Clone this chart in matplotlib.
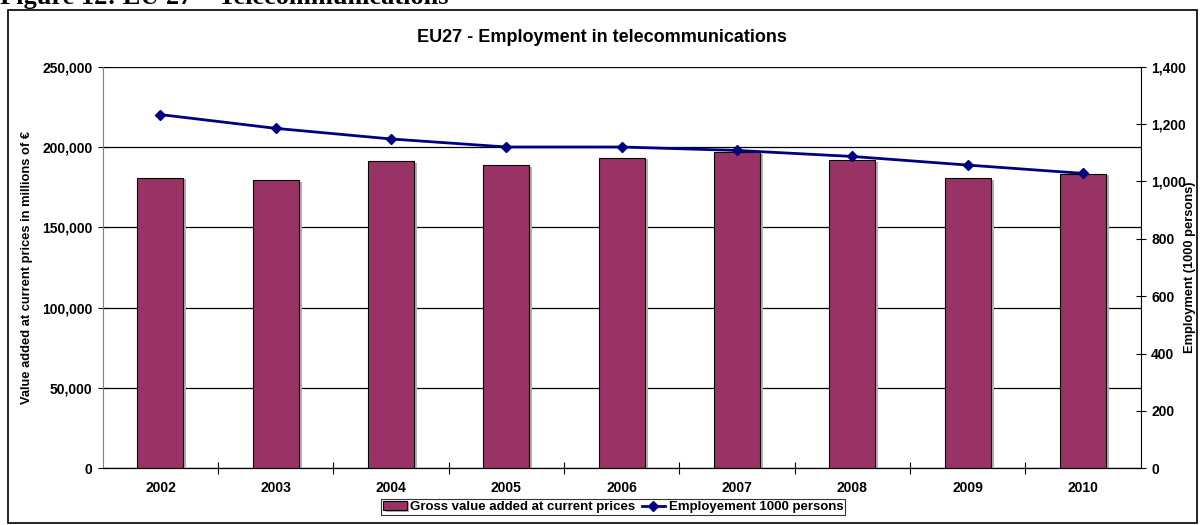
import matplotlib
matplotlib.use("Agg")
import matplotlib.pyplot as plt
import matplotlib.patheffects as pe
from matplotlib.patches import Rectangle
from matplotlib.ticker import FuncFormatter, FixedLocator
import numpy as np

# EU27 telecommunications: value added (bars) and employment (line)
years = ["2002", "2003", "2004", "2005", "2006", "2007", "2008", "2009", "2010"]
value_added = [180900, 179200, 191200, 188700, 193400, 196700, 191700, 180400, 183400]
employment = [1233, 1185, 1148, 1120, 1120, 1108, 1087, 1057, 1028]

plt.rcParams["font.family"] = ["Liberation Sans", "DejaVu Sans"]
plt.rcParams["font.weight"] = "bold"

W, H = 1203, 525
fig = plt.figure(figsize=(W / 100, H / 100), dpi=100)
ax = fig.add_axes([0.0854, 0.108, 0.8628, 0.765])
ax2 = ax.twinx()

x = np.arange(len(years))
bars = ax.bar(x, value_added, width=0.4, color="#993366", edgecolor="black",
              linewidth=0.8, zorder=3, label="Gross value added at current prices")
for b in bars:
    b.set_path_effects([pe.SimplePatchShadow(offset=(2, -1), shadow_rgbFace="#b0b0b0", alpha=1),
                        pe.Normal()])

ax.set_xlim(-0.5, len(years) - 0.5)
ax.set_ylim(0, 250000)
ax.set_yticks(np.arange(0, 250001, 50000))
ax.yaxis.set_major_formatter(FuncFormatter(lambda v, p: f"{int(v):,}"))
ax.grid(axis="y", color="black", linewidth=0.9, zorder=0)
ax.set_axisbelow(True)
ax.set_xticks(x)
ax.set_xticklabels(years, fontsize=10, fontweight="bold")
ax.tick_params(axis="x", length=0, pad=9)
ax.xaxis.set_minor_locator(FixedLocator(np.arange(0.5, len(years) - 1, 1)))
ax.tick_params(axis="x", which="minor", direction="inout", length=8, width=0.8)
ax.tick_params(axis="y", direction="inout", length=7, width=0.8, labelsize=10, pad=4)
ax.set_ylabel("Value added at current prices in millions of €", fontsize=9.3,
              fontweight="bold", va="center")
ax.yaxis.set_label_coords((27 - 102.7) / 1038, 0.5)
ax.spines["top"].set_visible(False)
ax.spines["left"].set_color("#808080")
ax.spines["right"].set_visible(False)

ax2.plot(x, employment, color="#000080", linewidth=2, marker="D", markersize=5.5,
         zorder=5, label="Employement 1000 persons")
ax2.set_ylim(0, 1400)
ax2.set_yticks(np.arange(0, 1401, 200))
ax2.yaxis.set_major_formatter(FuncFormatter(lambda v, p: f"{int(v):,}"))
ax2.tick_params(axis="y", direction="inout", length=7, width=0.8, labelsize=10, pad=4)
ax2.set_ylabel("Employment (1000 persons)", fontsize=9.3, fontweight="bold", va="center")
ax2.yaxis.set_label_coords((1190 - 102.7) / 1038, 0.5)
ax2.spines["top"].set_visible(False)
ax2.spines["left"].set_visible(False)
ax2.spines["right"].set_color("black")
ax.set_zorder(1)
ax2.set_zorder(2)
ax2.patch.set_visible(False)

fig.text(0.5, 1 - 37 / H, "EU27 - Employment in telecommunications",
         ha="center", va="center", fontsize=13, fontweight="bold")

# outer chart border
fig.patches.append(Rectangle((8 / W, 2 / H), 1189 / W, 513 / H,
                             transform=fig.transFigure, fill=False,
                             edgecolor="black", linewidth=1.2))
fig.text(0.0, 1 - 4 / H, "Figure 12: EU 27 – Telecommunications",
         ha="left", va="baseline", fontsize=19, fontweight="bold",
         family=["Liberation Serif", "DejaVu Serif"])

handles = [bars, ax2.get_lines()[0]]
leg = fig.legend(handles, [h.get_label() for h in handles], loc="center",
                 bbox_to_anchor=(613 / W, 1 - 507 / H), ncol=2,
                 frameon=True, fancybox=False, handlelength=1.8,
                 handletextpad=0.25, columnspacing=0.5, borderpad=0.15,
                 borderaxespad=0, prop={"weight": "bold", "size": 9.5})
leg.get_frame().set_edgecolor("black")
leg.get_frame().set_linewidth(0.8)

fig.savefig("out.png", dpi=100)
